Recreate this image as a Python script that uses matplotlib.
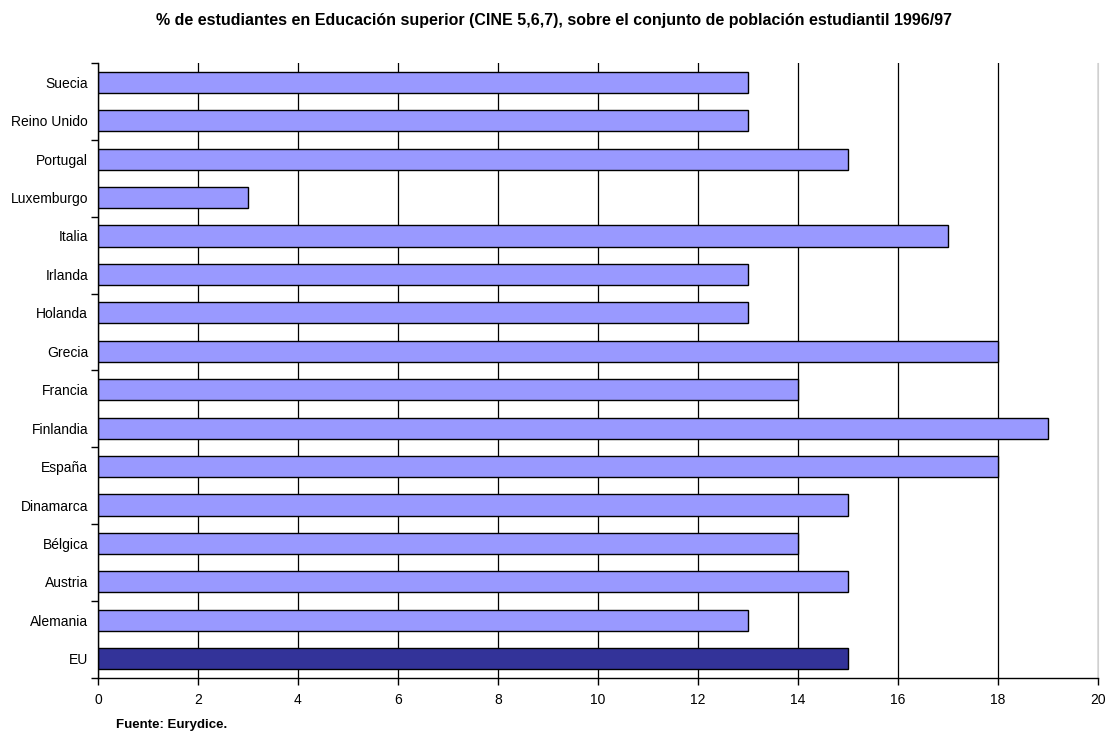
import matplotlib
matplotlib.use("Agg")
import matplotlib.pyplot as plt
import numpy as np

plt.rcParams['font.family'] = ['Liberation Sans', 'DejaVu Sans']

# countries listed bottom to top, EU average first
countries = ['EU', 'Alemania', 'Austria', 'Bélgica', 'Dinamarca', 'España',
             'Finlandia', 'Francia', 'Grecia', 'Holanda', 'Irlanda', 'Italia',
             'Luxemburgo', 'Portugal', 'Reino Unido', 'Suecia']
percent = [15, 13, 15, 14, 15, 18, 19, 14, 18, 13, 13, 17, 3, 15, 13, 13]

colors = ['#333399'] + ['#9999FF'] * (len(countries) - 1)
pos = np.arange(len(countries))

fig = plt.figure(figsize=(11.08, 7.35), dpi=100)
ax = fig.add_axes([0.0884, 0.0776, 0.9026, 0.8367])

ax.set_axisbelow(True)
ax.xaxis.grid(True, color='black', linewidth=0.9)
ax.barh(pos, percent, height=0.55, color=colors, edgecolor='black', linewidth=1)

ax.set_xlim(0, 20)
ax.set_ylim(-0.5, len(countries) - 0.5)
ax.set_xticks(np.arange(0, 21, 2))
ax.set_yticks(pos)
ax.set_yticklabels(countries)
# small marks on the category axis every second boundary
ax.set_yticks(np.arange(-0.5, len(countries), 2), minor=True)

ax.tick_params(axis='y', which='major', length=0, pad=7, labelsize=10)
ax.tick_params(axis='y', which='minor', length=5, width=1, direction='out')
ax.tick_params(axis='x', length=5, width=1, direction='out', labelsize=10, pad=6)

ax.spines['top'].set_visible(False)
ax.spines['right'].set_color('#d0d0d0')
ax.spines['left'].set_linewidth(1)
ax.spines['bottom'].set_linewidth(1)

fig.text(0.5, 0.972, '% de estudiantes en Educación superior (CINE 5,6,7), sobre el conjunto de población estudiantil 1996/97',
         ha='center', va='center', fontsize=11.5, fontweight='bold')
fig.text(0.105, 0.006, 'Fuente: Eurydice.', ha='left', va='bottom', fontsize=9.5, fontweight='bold')

fig.savefig('out.png', dpi=100)
